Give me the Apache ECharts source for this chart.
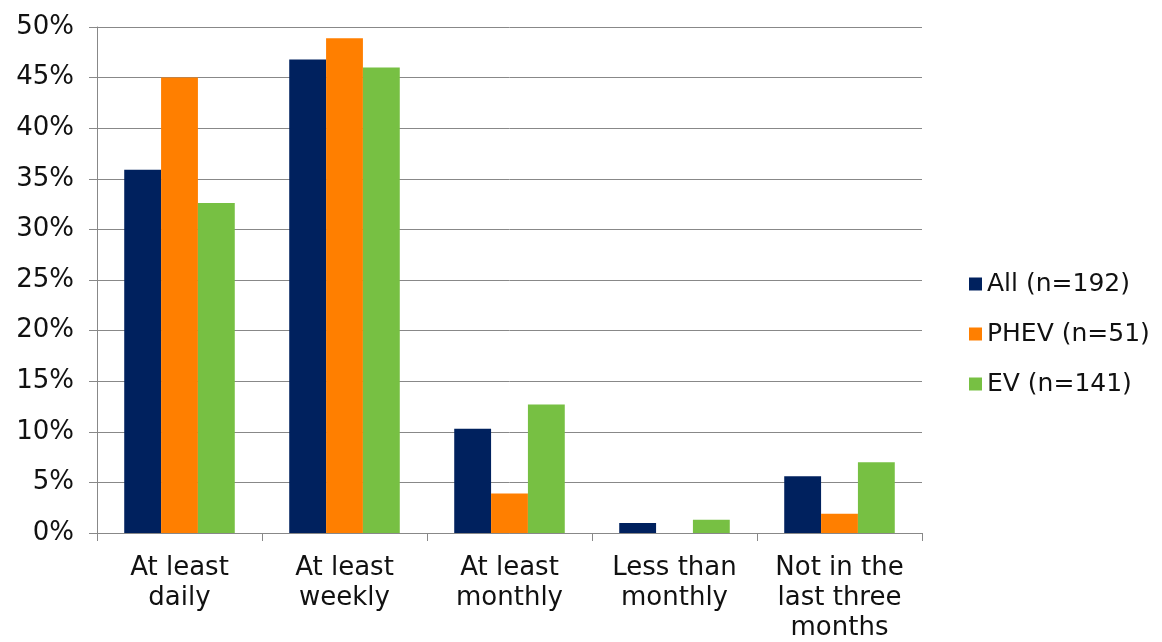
<!DOCTYPE html>
<html>
<head>
<meta charset="utf-8">
<script src="https://cdn.jsdelivr.net/npm/echarts@6/dist/echarts.min.js"></script>
<style>
html,body{margin:0;padding:0;background:#fff;}
#chart{width:1162px;height:642px;}
</style>
</head>
<body>
<div id="chart"></div>
<script>
var categories = ["At least\ndaily", "At least\nweekly", "At least\nmonthly", "Less than\nmonthly", "Not in the\nlast three\nmonths"];
var seriesNames = ["All (n=192)", "PHEV (n=51)", "EV (n=141)"];
var allValues = [35.9, 46.8, 10.3, 1.0, 5.6];
var phevValues = [45.0, 48.9, 3.9, 0, 1.9];
var evValues = [32.6, 46.0, 12.7, 1.3, 7.0];
var yTicks = {min: 0, max: 50, interval: 5};
var colors = ["#00215E", "#FF7F00", "#77C043"];

var font = "'DejaVu Sans', Verdana, sans-serif";
var chart = echarts.init(document.getElementById('chart'));
var data = [allValues, phevValues, evValues];
chart.setOption({
  animation: false,
  backgroundColor: '#fff',
  color: colors,
  textStyle: {fontFamily: font},
  grid: {left: 97, right: 240, top: 27, bottom: 109, containLabel: false, outerBoundsMode: 'none'},
  legend: {
    orient: 'vertical',
    left: 964, top: 265,
    itemWidth: 13, itemHeight: 13, itemGap: 22,
    icon: 'rect',
    textStyle: {fontFamily: font, fontSize: 25, color: '#111', padding: [0, 0, 0, 0], lineHeight: 28},
    data: seriesNames
  },
  xAxis: {
    type: 'category',
    data: categories,
    axisLine: {lineStyle: {color: '#888', width: 1}},
    axisTick: {show: true, length: 8, lineStyle: {color: '#888'}},
    axisLabel: {fontFamily: font, fontSize: 26, color: '#111', lineHeight: 30, margin: 20, interval: 0}
  },
  yAxis: {
    type: 'value',
    min: yTicks.min, max: yTicks.max, interval: yTicks.interval,
    axisLine: {show: true, lineStyle: {color: '#888', width: 1}},
    axisTick: {show: true, length: 8, lineStyle: {color: '#888'}},
    splitLine: {lineStyle: {color: '#888', width: 1}},
    axisLabel: {fontFamily: font, fontSize: 26, color: '#111', margin: 23, formatter: '{value}%'}
  },
  series: seriesNames.map(function (n, i) {
    return {
      name: n, type: 'bar', data: data[i],
      barGap: '0%', barCategoryGap: '33%'
    };
  })
});
</script>
</body>
</html>
